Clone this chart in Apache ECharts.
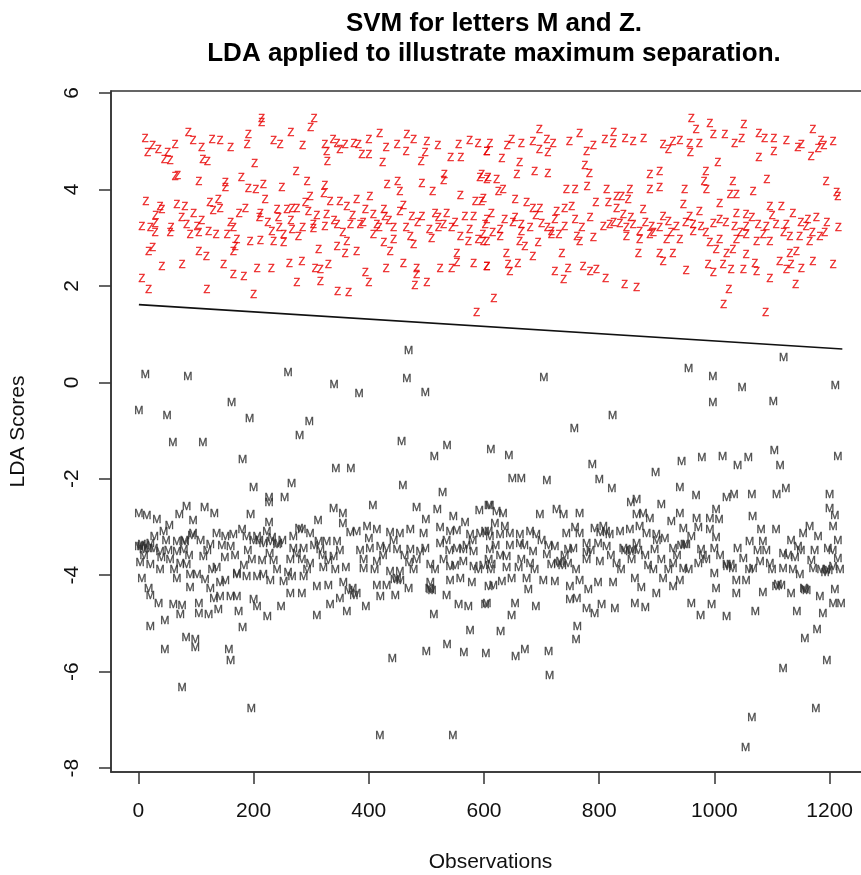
<!DOCTYPE html>
<html>
<head>
<meta charset="utf-8">
<script src="https://cdn.jsdelivr.net/npm/echarts@6/dist/echarts.min.js"></script>
<style>
html,body{margin:0;padding:0;background:#fff;}
#chart{width:861px;height:875px;}
</style>
</head>
<body>
<div id="chart"></div>
<script>
// ---- data ----
const xTicks = [0, 200, 400, 600, 800, 1000, 1200];
const yTicks = [-8, -6, -4, -2, 0, 2, 4, 6];

// decision boundary (SVM line in LDA space)
const boundaryX = [1, 1222];
const boundaryY = [1.61, 0.69];

// letter M observations: [observation index, LDA score]
const mOutliers = [
[12,0.16],[86,0.11],[260,0.2],[469,0.65],[340,-0.06],[383,-0.25],[466,0.06],[498,-0.23],[1,-0.6],[50,-0.69],[162,-0.43],[193,-0.75],[297,-0.83],[280,-1.12],[60,-1.26],[112,-1.26],[181,-1.6],[457,-1.23],[536,-1.32],[514,-1.55],[343,-1.8],[369,-1.8],[200,-2.2],[266,-2.11],[459,-2.14],[227,-2.4],[227,-2.5],[254,-2.4],[528,-2.3],[612,-1.4],
[1120,0.51],[955,0.28],[997,0.11],[1210,-0.07],[1048,-0.12],[997,-0.43],[1102,-0.4],[704,0.1],[823,-0.69],[757,-0.97],[643,-1.52],[788,-1.72],[649,-2.0],[665,-2.0],[709,-2.05],[800,-2.03],[822,-2.22],[898,-1.89],[943,-1.66],[978,-1.57],[1014,-1.55],[1040,-1.74],[1059,-1.57],[1104,-1.43],[1114,-1.74],[1214,-1.54],[940,-2.2],[968,-2.36],[1021,-2.4],[1034,-2.34],[1065,-2.34],[1108,-2.34],[1124,-2.22],[1200,-2.34],[855,-2.5],[865,-2.43],
[21,-5.07],[46,-4.94],[46,-5.54],[83,-5.3],[99,-5.35],[99,-5.51],[76,-6.33],[157,-5.54],[160,-5.77],[181,-5.1],[196,-6.77],[419,-7.34],[546,-7.34],[441,-5.74],[500,-5.6],[536,-5.44],[565,-5.62],[576,-5.16],[603,-5.64],[513,-4.83],[224,-4.87],[310,-4.85],[248,-4.65],[395,-4.65],
[629,-5.17],[655,-5.7],[671,-5.54],[712,-5.6],[714,-6.08],[762,-5.07],[760,-5.34],[648,-4.85],[1119,-5.94],[1195,-5.77],[1178,-5.14],[1157,-5.32],[1176,-6.77],[1065,-6.96],[1054,-7.59],[976,-4.85],[1021,-4.87],[1071,-4.77],[1143,-4.77],[1188,-4.8]
];
const mCluster = [
[1,-2.72],[15,-2.78],[32,-2.86],[54,-2.97],[71,-2.76],[84,-2.58],[95,-2.88],[115,-2.6],[132,-2.74],[195,-2.76],[227,-2.92],[279,-3.05],[312,-2.88],[339,-2.63],[355,-2.74],[355,-2.93],[407,-2.57],[483,-2.6],[519,-2.64],[499,-2.86],[547,-2.79],[567,-2.91],[592,-2.67],[608,-2.57],
[44,-3.1],[48,-3.28],[67,-3.31],[81,-3.31],[93,-3.19],[136,-3.14],[151,-3.21],[165,-3.17],[180,-3.07],[188,-3.21],[206,-3.21],[223,-3.1],[229,-3.31],[243,-3.35],[269,-3.21],[284,-3.07],[298,-3.14],[313,-3.31],[327,-3.31],[345,-3.31],[368,-3.12],[379,-3.1],[397,-3.0],[414,-3.07],[437,-3.12],[454,-3.14],[472,-3.07],[495,-3.14],[524,-3.03],[541,-3.1],[553,-3.08],[576,-3.17],[593,-3.14],[608,-3.1],
[1,-3.41],[9,-3.48],[27,-3.45],[38,-3.52],[67,-3.52],[79,-3.48],[125,-3.38],[160,-3.41],[217,-3.35],[241,-3.38],[269,-3.45],[287,-3.45],[316,-3.48],[402,-3.45],[420,-3.41],[431,-3.45],[449,-3.48],[472,-3.48],[489,-3.52],[524,-3.35],[553,-3.45],[564,-3.48],[582,-3.52],[6,-3.38],[21,-3.35],
[3,-3.75],[21,-3.79],[38,-3.9],[55,-3.69],[73,-3.76],[84,-3.79],[113,-3.62],[136,-3.84],[171,-3.97],[183,-3.81],[197,-3.68],[235,-3.7],[241,-3.9],[264,-3.69],[284,-3.68],[298,-3.76],[321,-3.84],[339,-3.63],[342,-3.9],[391,-3.69],[391,-3.86],[414,-3.73],[437,-3.93],[454,-3.93],[483,-3.69],[507,-3.79],[530,-3.69],[541,-3.83],[564,-3.73],[582,-3.83],[608,-3.69],
[6,-4.07],[18,-4.28],[67,-4.07],[90,-4.0],[102,-4.0],[116,-4.09],[125,-4.28],[142,-4.17],[151,-4.11],[171,-4.0],[188,-4.04],[206,-4.04],[217,-4.0],[229,-4.11],[252,-4.14],[267,-4.04],[287,-4.04],[310,-4.24],[330,-4.23],[356,-4.17],[379,-4.38],[414,-4.23],[431,-4.23],[449,-4.07],[469,-4.28],[507,-4.17],[541,-4.11],[559,-4.07],[579,-4.17],[608,-4.24],
[21,-4.44],[35,-4.59],[61,-4.62],[76,-4.64],[90,-4.26],[105,-4.59],[131,-4.49],[142,-4.45],[160,-4.45],[171,-4.45],[200,-4.52],[206,-4.65],[264,-4.38],[284,-4.38],[333,-4.62],[350,-4.49],[362,-4.76],[374,-4.42],[420,-4.45],[446,-4.42],[507,-4.31],[535,-4.42],[556,-4.62],[573,-4.66],[602,-4.62],
[73,-4.83],[105,-4.8],[122,-4.83],[139,-4.73],[174,-4.76],
[610,-2.57],[622,-2.69],[633,-2.72],[697,-2.76],[726,-2.65],[738,-2.76],[766,-2.74],[865,-2.76],[876,-2.72],[888,-2.83],[908,-2.55],[925,-2.89],[940,-2.72],[969,-2.83],[992,-2.83],[1003,-2.65],[1008,-2.86],[1066,-2.79],[1200,-2.62],[1209,-2.78],
[602,-3.1],[619,-2.93],[636,-3.0],[610,-3.21],[628,-3.17],[645,-3.14],[662,-3.17],[680,-3.1],[691,-3.17],[743,-3.14],[758,-3.03],[766,-3.14],[792,-3.05],[807,-3.0],[818,-3.17],[836,-3.1],[853,-3.07],[870,-3.0],[882,-3.14],[899,-3.17],[914,-3.24],[946,-3.05],[972,-3.03],[992,-3.07],[1003,-3.22],[1061,-3.31],[1081,-3.07],[1107,-3.07],[1133,-3.28],[1154,-3.14],[1165,-3.0],[1206,-3.0],[1214,-3.28],
[610,-3.48],[639,-3.62],[662,-3.35],[685,-3.52],[709,-3.59],[723,-3.41],[746,-3.48],[778,-3.35],[778,-3.54],[798,-3.36],[813,-3.41],[842,-3.45],[853,-3.52],[865,-3.35],[896,-3.48],[928,-3.45],[951,-3.38],[977,-3.48],[1000,-3.45],[1050,-3.66],[1084,-3.31],[1119,-3.55],[1145,-3.41],[1174,-3.5],[1197,-3.45],[1214,-3.66],
[599,-3.81],[613,-3.79],[639,-3.84],[665,-3.69],[680,-3.76],[717,-3.79],[732,-3.73],[746,-3.76],[778,-3.69],[801,-3.73],[830,-3.76],[856,-3.69],[894,-3.9],[908,-3.69],[928,-3.76],[946,-3.86],[972,-3.76],[986,-3.69],[1000,-3.97],[1021,-3.79],[1032,-3.86],[1067,-3.86],[1079,-3.73],[1096,-3.76],[1119,-3.86],[1136,-3.9],[1148,-4.0],[1171,-3.86],[1194,-3.9],[1206,-3.83],
[616,-4.23],[631,-4.14],[648,-4.07],[674,-4.07],[677,-4.3],[703,-4.11],[723,-4.14],[749,-4.24],[766,-4.11],[781,-4.31],[798,-4.17],[824,-4.17],[862,-4.07],[873,-4.26],[899,-4.38],[911,-4.07],[928,-4.24],[940,-4.11],[1003,-4.28],[1038,-4.11],[1055,-4.11],[1038,-4.38],[1084,-4.37],[1107,-4.24],[1133,-4.38],[1157,-4.31],[1183,-4.45],[1209,-4.31],
[605,-4.6],[654,-4.59],[690,-4.65],[749,-4.52],[761,-4.49],[778,-4.71],[792,-4.8],[804,-4.62],[827,-4.71],[862,-4.59],[880,-4.67],[960,-4.59],[995,-4.62],[1206,-4.59],[1220,-4.59]
];
const mOverlap = [
[5,-3.42],[12,-3.4],[18,-3.45],[200,-3.28],[210,-3.3],[232,-3.22],[365,-4.33],[372,-4.28],[445,-4.1],[455,-4.12],[505,-4.28],[510,-4.33],[802,-3.12],[812,-3.1],[845,-3.5],[858,-3.48],[728,-3.77],[736,-3.8],[942,-3.4],[948,-3.38],[1022,-3.82],[1028,-3.78],[1192,-3.95],[1198,-3.92],[1110,-4.2],[1116,-4.22],[1155,-4.28],[1160,-4.33],[80,-3.28],[95,-3.15],[620,-3.4],[660,-3.85],[700,-3.3],[755,-3.45],[880,-3.6],[920,-3.9],[960,-3.2],[1090,-3.5],[1140,-3.65],[1180,-3.2],[320,-3.6],[400,-3.25],[470,-3.75],[540,-3.5],[580,-3.3],[260,-3.95],[150,-3.65],[40,-3.65],[120,-3.5],[350,-3.5],
[10,-3.6],[28,-3.2],[52,-3.5],[62,-3.9],[88,-3.6],[108,-3.3],[128,-3.9],[145,-3.4],[168,-3.6],[190,-3.5],[215,-3.7],[228,-3.55],[250,-3.3],[275,-3.55],[293,-3.9],[305,-3.4],[330,-3.7],[360,-3.85],[385,-3.5],[410,-3.9],[425,-3.6],[443,-3.3],[462,-3.6],[478,-3.9],[498,-3.45],[515,-3.9],[535,-3.3],[550,-3.8],[570,-3.4],[590,-3.9],[612,-3.9],[628,-3.6],[645,-3.4],[670,-3.4],[688,-3.9],[712,-3.4],[740,-3.6],[760,-3.9],[785,-3.5],[820,-3.6],[838,-3.9],[868,-3.5],[885,-3.8],[900,-3.3],[935,-3.6],[955,-3.9],[980,-3.6],[1010,-3.6],[1040,-3.45],[1060,-3.9],[1075,-3.5],[1100,-3.9],[1128,-3.6],[1150,-3.5],[1168,-3.7],[1185,-3.9],[1205,-3.5],[1218,-3.9]
];

// letter Z observations: [observation index, LDA score]
const zLeft = [
[214,5.47],[214,5.37],[305,5.47],[299,5.27],[87,5.18],[265,5.18],[12,5.04],[16,4.75],[35,4.82],[51,4.75],[64,4.93],[45,4.62],[55,4.59],[110,4.85],[112,4.61],[120,4.57],[128,5.02],[142,5.01],[191,5.13],[189,4.92],[202,4.52],[246,4.92],[324,4.93],[338,5.02],[327,4.78],[328,4.57],[350,4.82],[359,4.92],[374,4.95],[382,4.92],[400,5.02],[388,4.71],[400,4.71],[419,5.14],[424,4.55],[449,4.92],[466,5.13],[478,5.02],[465,4.78],[501,4.99],[498,4.76],[491,4.57],[556,4.93],[542,4.66],[560,4.66],[590,4.95],[605,4.78],
[64,4.25],[68,4.28],[105,4.16],[151,4.14],[151,4.02],[179,4.23],[191,4.0],[204,3.99],[217,4.09],[249,4.03],[274,4.37],[293,4.16],[324,4.07],[322,3.9],[432,4.09],[450,4.16],[454,3.95],[492,4.12],[511,3.95],[531,4.3],[530,4.17],[593,4.23],[605,4.19],
[13,3.74],[38,3.64],[41,3.57],[67,3.67],[81,3.63],[96,3.5],[124,3.72],[139,3.79],[142,3.6],[186,3.6],[212,3.5],[210,3.4],[220,3.78],[241,3.57],[243,3.4],[258,3.57],[267,3.6],[275,3.6],[290,3.71],[295,3.54],[298,3.85],[327,3.47],[333,3.74],[350,3.74],[362,3.64],[379,3.79],[402,3.85],[394,3.57],[408,3.47],[426,3.57],[428,3.43],[454,3.54],[460,3.65],[475,3.43],[492,3.43],[521,3.4],[535,3.5],[559,3.86],[585,3.74],[596,3.74],[567,3.43],[582,3.43],[605,3.36],
[6,3.23],[21,3.19],[29,3.29],[29,3.09],[57,3.19],[84,3.26],[102,3.23],[105,3.09],[122,3.12],[135,3.05],[154,3.05],[165,3.19],[171,2.95],[194,2.91],[212,2.93],[232,3.12],[235,2.91],[252,3.05],[252,2.88],[267,3.16],[278,3.02],[304,3.26],[304,3.17],[324,3.23],[345,3.26],[368,3.26],[385,3.26],[408,3.05],[414,3.26],[426,2.88],[443,3.19],[443,2.95],[472,3.02],[478,2.84],[509,2.98],[521,3.19],[544,3.19],[559,3.02],[573,2.91],[590,2.95],[605,2.91],[530,3.26],
[18,2.71],[25,2.78],[105,2.71],[118,2.6],[165,2.71],[168,2.81],[313,2.74],[345,2.81],[359,2.67],[362,2.91],[379,2.71],[437,2.71],[553,2.67],
[41,2.39],[76,2.43],[148,2.43],[165,2.22],[183,2.19],[206,2.36],[231,2.36],[262,2.46],[284,2.5],[307,2.36],[316,2.33],[330,2.43],[316,2.08],[275,2.05],[346,1.88],[365,1.86],[394,2.27],[400,2.06],[430,2.36],[460,2.46],[483,2.36],[483,2.22],[480,1.99],[501,2.06],[524,2.36],[544,2.36],[553,2.48],[582,2.46],[605,2.39],[6,2.15],[18,1.91],[119,1.91],[200,1.81],[587,1.43]
];
const zRight = [
[960,5.47],[968,5.24],[992,5.36],[998,5.13],[1018,5.13],[1051,5.33],[1047,5.04],[1171,5.24],[696,5.24],[709,5.02],[685,4.99],[648,5.02],[665,4.95],[610,4.95],[605,4.78],[631,4.64],[696,4.82],[711,4.75],[748,4.99],[766,5.15],[778,4.78],[810,5.02],[825,5.16],[824,4.95],[859,4.99],[877,5.04],[911,4.92],[928,4.99],[920,4.82],[957,4.95],[974,4.95],[958,4.76],[1077,5.15],[1087,5.04],[1103,5.04],[1103,4.78],[1077,4.66],[1145,4.85],[1151,4.92],[1185,5.01],[1206,4.99],[1180,4.83],[1168,4.68],[1006,4.55],[662,4.55],[657,4.3],[688,4.37],[711,4.32],[775,4.48],[783,4.32],[888,4.3],[905,4.37],[985,4.37],[982,4.16],[1091,4.19],[1194,4.16],
[596,4.3],[607,4.23],[622,4.19],[625,3.95],[633,3.99],[599,3.81],[743,3.99],[758,3.99],[779,4.04],[813,3.99],[830,3.85],[839,3.85],[853,3.99],[850,3.78],[794,3.71],[816,3.71],[888,3.99],[905,4.02],[948,3.99],[986,3.99],[1032,4.16],[1038,3.88],[1027,3.88],[1067,3.95],[1009,3.7],[1096,3.64],[1116,3.64],[1214,3.85],[1212,3.92],[654,3.78],[674,3.71],[685,3.6],[697,3.6],[726,3.54],[740,3.6],[752,3.64],[613,3.5],[830,3.6],[842,3.47],[876,3.57],[911,3.43],[946,3.67],[957,3.43],[974,3.54],[1038,3.5],[1055,3.47],[1136,3.5],[1162,3.36],[1177,3.4],
[602,3.26],[636,3.36],[628,3.16],[654,3.4],[665,3.26],[665,3.12],[680,3.19],[700,3.29],[717,3.12],[723,3.36],[740,3.23],[758,3.36],[784,3.4],[807,3.23],[818,3.26],[836,3.29],[847,3.19],[859,3.26],[870,3.12],[891,3.23],[894,3.09],[920,3.33],[934,3.23],[963,3.26],[977,3.23],[998,3.29],[1009,3.36],[1035,3.23],[1055,3.23],[1076,3.26],[1090,3.23],[1107,3.26],[1125,3.26],[1159,3.23],[1183,3.02],[1191,3.09],[628,3.02],[599,2.91],[662,2.91],[694,2.88],[717,3.05],[761,3.02],[766,2.91],[847,3.02],[870,2.95],[888,3.05],[917,2.95],[940,2.95],[963,3.12],[992,2.88],[1009,2.95],[1038,2.95],[1055,3.05],[1073,2.91],[1096,2.91],[1131,3.02],[1148,3.02],[1165,2.91],
[639,2.67],[671,2.81],[685,2.6],[735,2.67],[868,2.67],[905,2.67],[911,2.5],[928,2.67],[1003,2.74],[1021,2.67],[1032,2.74],[1055,2.64],[1131,2.67],[1142,2.71],
[605,2.39],[642,2.43],[659,2.46],[645,2.29],[723,2.29],[746,2.36],[738,2.12],[772,2.39],[784,2.29],[795,2.33],[811,2.15],[844,2.01],[865,1.95],[951,2.31],[989,2.43],[998,2.26],[1015,2.43],[1029,2.33],[1050,2.33],[1070,2.46],[1073,2.29],[1096,2.15],[1113,2.5],[1133,2.43],[1125,2.33],[1151,2.36],[1171,2.5],[1206,2.43],[1141,2.01],[1025,1.92],[1016,1.6],[1089,1.43],[617,1.72]
];
const zOverlap = [
[30,3.45],[55,3.1],[75,3.4],[90,3.05],[110,3.35],[130,3.55],[160,3.3],[175,3.5],[225,3.3],[245,3.2],[265,3.35],[285,3.2],[310,3.45],[340,3.35],[355,3.1],[372,3.45],[390,3.3],[418,3.2],[435,3.35],[465,3.2],[485,3.3],[505,3.15],[515,3.5],[550,3.3],[575,3.15],[598,3.05],[615,3.1],[650,3.3],[690,3.45],[710,3.2],[730,3.05],[770,3.2],[790,3.0],[825,3.3],[855,3.4],[880,3.3],[905,3.2],[925,3.1],[950,3.3],[985,3.1],[1020,3.3],[1045,3.1],[1065,3.4],[1085,3.05],[1100,3.45],[1120,3.1],[1150,3.3],[1170,3.1],[1195,3.3],[1215,3.2],
[25,4.9],[95,5.0],[160,4.85],[235,5.0],[285,4.9],[345,4.95],[430,4.85],[520,4.9],[575,5.0],[640,4.9],[720,4.95],[790,4.9],[845,5.05],[940,5.0],[1035,4.95],[1125,5.0],[1190,4.9]
];

const mPoints = mOutliers.concat(mCluster, mOverlap);
const zPoints = zLeft.concat(zRight, zOverlap);

const FONT = 'Liberation Sans, Arial, sans-serif';
const chart = echarts.init(document.getElementById('chart'), null, {renderer: 'canvas'});

function letterSeries(name, pts, letter, color, size) {
  return {
    type: 'scatter', name: name, data: pts, silent: true,
    symbol: 'circle', symbolSize: 1,
    itemStyle: {color: 'rgba(0,0,0,0)'},
    label: {show: true, position: 'inside', formatter: letter,
      fontFamily: FONT, fontSize: size, color: color,
      textBorderColor: color, textBorderWidth: 0.35},
    labelLayout: {hideOverlap: false},
    z: 3
  };
}

const axisLineStyle = {color: '#333', width: 1.5};
const plain = v => String(v);
const option = {
  animation: false,
  backgroundColor: '#fff',
  title: {
    text: 'SVM for letters M and Z.\nLDA applied to illustrate maximum separation.',
    left: 489, top: 4, textAlign: 'center',
    textStyle: {fontFamily: FONT, fontWeight: 'bold', fontSize: 26, lineHeight: 30, color: '#000'}
  },
  grid: {left: 111, top: 91, right: -9, bottom: 103, show: true,
    borderColor: '#333', borderWidth: 1.5, outerBoundsMode: 'none', containLabel: false},
  xAxis: {
    type: 'value', min: -47.4, max: 1270,
    name: 'Observations', nameLocation: 'middle', nameGap: 80,
    nameTextStyle: {fontFamily: FONT, fontSize: 21, color: '#111'},
    axisLine: {show: true, onZero: false, lineStyle: axisLineStyle},
    axisTick: {show: true, customValues: xTicks, length: 12, lineStyle: axisLineStyle},
    axisLabel: {customValues: xTicks, formatter: plain, margin: 29, fontFamily: FONT, fontSize: 21, color: '#111'},
    splitLine: {show: false}
  },
  yAxis: {
    type: 'value', min: -8.08, max: 6.04,
    name: 'LDA Scores', nameLocation: 'middle', nameGap: 82, nameRotate: 90,
    nameTextStyle: {fontFamily: FONT, fontSize: 21, color: '#111'},
    axisLine: {show: true, onZero: false, lineStyle: axisLineStyle},
    axisTick: {show: true, customValues: yTicks, length: 12, lineStyle: axisLineStyle},
    axisLabel: {customValues: yTicks, formatter: plain, margin: 28, rotate: 90, fontFamily: FONT, fontSize: 21, color: '#111'},
    splitLine: {show: false}
  },
  series: [
    letterSeries('Z', zPoints, 'Z', '#e80000', 11),
    letterSeries('M', mPoints, 'M', '#2e2e2e', 11),
    {
      type: 'line', name: 'boundary', silent: true, showSymbol: false, symbol: 'none',
      data: boundaryX.map((x, i) => [x, boundaryY[i]]),
      lineStyle: {color: '#111', width: 1.6}, z: 4
    }
  ]
};
chart.setOption(option);
</script>
</body>
</html>
